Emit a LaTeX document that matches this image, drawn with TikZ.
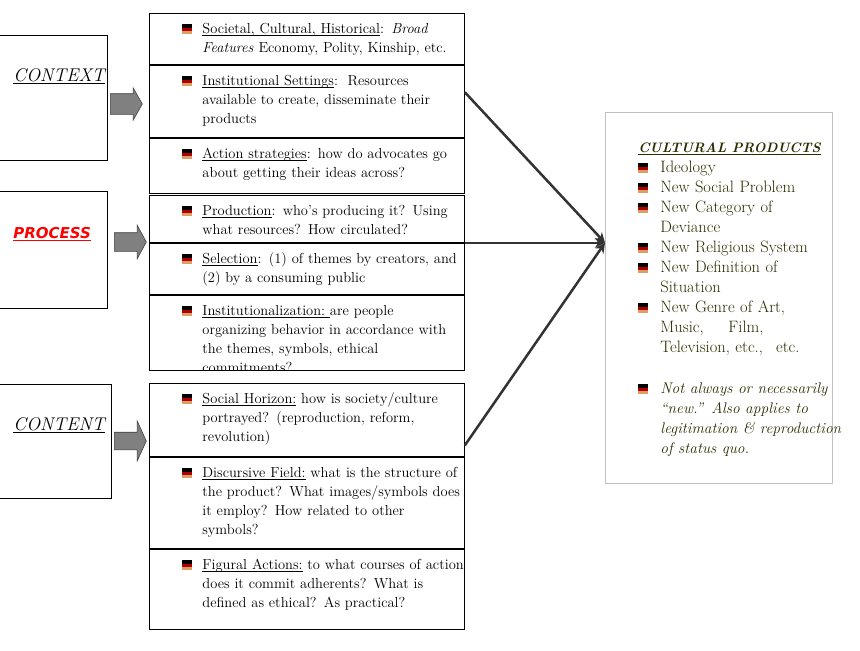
\documentclass[tikz,border=0pt]{standalone}
\usepackage{fontspec}
\usepackage{xcolor}
\usepackage{tikz}
\usetikzlibrary{shapes, arrows.meta, positioning, calc}

\newfontfamily\procfont{DejaVu Sans}
\definecolor{flagred}{HTML}{B00000}
\definecolor{flaggold}{HTML}{D9A066}
\definecolor{linkgray}{HTML}{333333}
\definecolor{boxgray}{HTML}{C0C0C0}
\definecolor{olivetext}{HTML}{2B2B00}
\definecolor{arrowfill}{HTML}{808080}

\newcommand{\flagbullet}{\rlap{\color{black}\rule[5.5pt]{9.5pt}{3.5pt}}\rlap{\color{flagred}\rule[2.5pt]{9.5pt}{3pt}}{\color{flaggold}\rule[-1pt]{9.5pt}{3.5pt}}}
\newcommand{\uword}[1]{\setbox0=\hbox{#1}\rlap{\rule[-2.2pt]{\wd0}{0.6pt}}\box0\relax}
\newcommand{\flagitem}[2]{\hangindent=#1\hangafter=1\noindent\makebox[#1][l]{\flagbullet}#2\par}
\newcommand{\cellitem}[1]{\leftskip=33pt\rightskip=-30pt plus 1fil\flagitem{20pt}{#1}}

\begin{document}
\begin{tikzpicture}[x=1pt, y=-1pt,
        stage/.style={draw, line width=0.8pt, anchor=north west, inner sep=0pt, text width=#1, align=left},
        cell/.style={draw, line width=0.8pt, inner sep=0pt, text width=315pt, text height=20pt, text depth=#1, font=\fontsize{14.5}{19}\selectfont},
        prodbox/.style={draw=boxgray, line width=0.8pt, anchor=north west, inner sep=0pt, text width=227pt, text height=40pt, text depth=331pt, text=olivetext, font=\fontsize{16.5}{20}\selectfont},
        blockarrow/.style={single arrow, draw=black!75, fill=arrowfill, line width=0.6pt, anchor=tail, minimum height=32pt},
        link/.style={-{Stealth[length=10pt, width=10pt]}, line width=2.5pt, draw=linkgray}
    ]
        \useasboundingbox (0,0) rectangle (860,651);

        % Stages (left column)
        \node[stage=108pt, text height=46pt, text depth=79pt] (ctx) at (-1,35) {\fontsize{18.4}{20}\selectfont\hspace*{14pt}\uword{\itshape CONTEXT}};
        \node[stage=108pt, text height=47pt, text depth=70pt] (proc) at (-1,191) {\hspace*{14pt}\textcolor{red}{\uword{\procfont\fontsize{15}{18}\selectfont\bfseries\itshape PROCESS}}};
        \node[stage=112pt, text height=46pt, text depth=68pt] (cont) at (-1,384) {\fontsize{18.4}{20}\selectfont\hspace*{14pt}\uword{\itshape CONTENT}};

        % Block arrows
        \node[blockarrow, inner sep=10pt, single arrow head extend=6pt, single arrow tip angle=121] (actx) at (110,104) {};
        \node[blockarrow, inner sep=9pt, single arrow head extend=7.5pt, single arrow tip angle=123] (aproc) at (114,242) {};
        \node[blockarrow, inner sep=8.5pt, single arrow head extend=11.5pt, single arrow tip angle=131] (acont) at (114,441) {};

        % Context cells
        \node[cell=31pt, anchor=north west] (c1) at (149,13) {\cellitem{\uword{Societal, Cultural, Historical}: \textit{Broad}\newline \textit{Features} Economy, Polity, Kinship, etc.}};
        \node[cell=52pt, below=0pt of c1] (c2) {\cellitem{\uword{Institutional Settings}:\ \ Resources\newline available to create, disseminate their\newline products}};
        \node[cell=35pt, below=0pt of c2] (c3) {\cellitem{\uword{Action strategies}: how do advocates go\newline about getting their ideas across?}};

        % Process cells
        \node[cell=27pt, anchor=north west] (p1) at (149,195) {\cellitem{\uword{Production}: who's producing it? Using\newline what resources? How circulated?}};
        \node[cell=31pt, below=0pt of p1] (p2) {\cellitem{\uword{Selection}: (1) of themes by creators, and\newline (2) by a consuming public}};
        \begin{scope}
            \clip (p2.south west) ++(-1,0) rectangle ++(317,76);
            \node[cell=55pt, below=0pt of p2] (p3) {\cellitem{\uword{Institutionalization:\ }are people\newline organizing behavior in accordance with\newline the themes, symbols, ethical\newline commitments?}};
        \end{scope}

        % Content cells
        \node[cell=53pt, anchor=north west] (s1) at (149,383) {\cellitem{\uword{Social Horizon:} how is society/culture\newline portrayed? (reproduction, reform,\newline revolution)}};
        \node[cell=71pt, below=0pt of s1] (s2) {\cellitem{\uword{Discursive Field:} what is the structure of\newline the product? What images/symbols does\newline it employ? How related to other\newline symbols?}};
        \node[cell=60pt, below=0pt of s2] (s3) {\cellitem{\uword{Figural Actions:} to what courses of action\newline does it commit adherents? What is\newline defined as ethical? As practical?}};

        % Cultural products
        \node[prodbox] (prod) at (605,112) {\leftskip=33pt\rightskip=-40pt plus 1fil
            \noindent\uword{\fontsize{13.7}{20}\selectfont\bfseries\itshape CULTURAL PRODUCTS}\par
            \flagitem{22pt}{Ideology}
            \flagitem{22pt}{New Social Problem}
            \flagitem{22pt}{New Category of\newline Deviance}
            \flagitem{22pt}{New Religious System}
            \flagitem{22pt}{New Definition of\newline Situation}
            \flagitem{22pt}{New Genre of Art,\newline Music,\hspace{1.5em}Film,\newline Television, etc.,\hspace{0.8em}etc.}
            \vspace{21pt}
            \fontsize{15.4}{20}\selectfont
            \flagitem{22pt}{\itshape Not always or necessarily\newline ``new.'' Also applies to\newline legitimation \& reproduction\newline of status quo.}};

        % Connectors
        \coordinate (hub) at (prod.west |- p1.south);
        \draw[link] ([yshift=9pt]c2.east) -- (hub);
        \draw[link] (p1.south east) -- (hub);
        \draw[link] ([yshift=-25.5pt]s1.east) -- (hub);

    \end{tikzpicture}
\end{document}
